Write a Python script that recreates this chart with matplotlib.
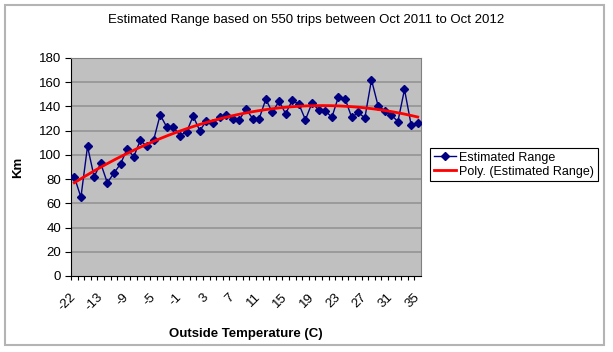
import numpy as np
import matplotlib.pyplot as plt
from matplotlib.patches import Rectangle

plt.rcParams['font.family'] = ['Liberation Sans', 'DejaVu Sans']

# outside temperature categories (C)
temps = [-22, -20, -18, -15] + list(range(-13, 36))
# estimated range (km) per temperature
est_range = [82, 65, 107, 82, 93, 77, 85, 92.5, 105, 98.5,
             112, 107, 112, 133, 123, 123, 116, 119, 132, 120,
             128, 126, 131, 133, 130, 129, 138, 130, 130, 146,
             135, 144.5, 134, 145, 142, 129, 143, 137, 136.5, 131,
             148, 146.5, 131, 135, 130.5, 162, 140.5, 136.5, 133, 127.5,
             154, 125, 126]
yticks = list(range(0, 181, 20))

W, H = 613, 352
fig = plt.figure(figsize=(W / 100, H / 100), dpi=100)
fig.patch.set_facecolor('white')

# chart area border
fig.add_artist(Rectangle((5 / W, 1 - 345 / H), 599 / W, 340 / H, transform=fig.transFigure,
                         fill=False, edgecolor='#b4b4b4', linewidth=1.5))

ax = fig.add_axes([71 / W, 1 - 276 / H, 350 / W, 218 / H])
ax.set_facecolor('#c0c0c0')

idx = np.arange(len(temps))
for y in yticks[1:]:
    ax.axhline(y, color='#9a9a9a', linewidth=1.4, zorder=1)

ax.plot(idx, est_range, color='#000080', linewidth=1, marker='D', markersize=3.8,
        markerfacecolor='#000080', markeredgecolor='#000080', zorder=3,
        label='Estimated Range')

# 2nd order polynomial trendline (Excel style, x = 1..n)
coef = np.polyfit(idx + 1, est_range, 2)
xs = np.linspace(0, len(temps) - 1, 200)
ax.plot(xs, np.polyval(coef, xs + 1), color='#ff0000', linewidth=2, zorder=4,
        label='Poly. (Estimated Range)')

ax.set_xlim(-0.5, len(temps) - 0.5)
ax.set_ylim(0, 180)
ax.set_yticks(yticks)
ax.set_yticklabels([str(v) for v in yticks], fontsize=9.5)
ax.tick_params(axis='y', direction='out', length=4, width=0.8, pad=3)

ax.set_xticks(idx[::4])
ax.set_xticklabels([str(temps[i]) for i in idx[::4]], fontsize=9.5, rotation=45,
                   ha='right', va='center', rotation_mode='anchor')
ax.set_xticks(idx - 0.5, minor=True)
ax.tick_params(axis='x', which='major', length=0, pad=14)
ax.tick_params(axis='x', which='minor', direction='out', length=3, width=0.8)

for s in ['top', 'right']:
    ax.spines[s].set_color('#808080')
for s in ['left', 'bottom']:
    ax.spines[s].set_color('black')

ax.set_ylabel('Km', fontsize=9.5, fontweight='bold')
ax.yaxis.set_label_coords((24 - 71) / 350, 0.5)
ax.set_xlabel('Outside Temperature (C)', fontsize=9.5, fontweight='bold')
ax.xaxis.set_label_coords(0.5, -(328 - 276) / 218)

fig.text(306 / W, 1 - 20 / H, 'Estimated Range based on 550 trips between Oct 2011 to Oct 2012',
         ha='center', va='center', fontsize=9.5)

leg = fig.legend(*ax.get_legend_handles_labels(), loc='upper left',
                 bbox_to_anchor=(430 / W, 1 - 148 / H), fontsize=9,
                 fancybox=False, edgecolor='black', framealpha=1,
                 handlelength=1.8, handletextpad=0.25, borderpad=0.3, labelspacing=0.15,
                 borderaxespad=0)
leg.get_frame().set_linewidth(0.8)

fig.savefig('out.png', dpi=100)
